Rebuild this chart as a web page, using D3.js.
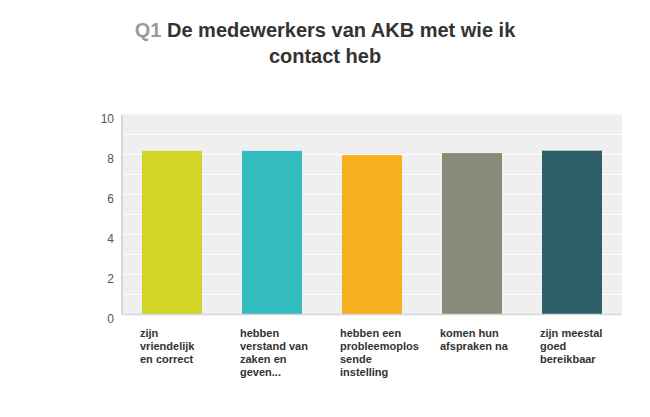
<!DOCTYPE html>
<html>
<head>
<meta charset="utf-8">
<script src="https://cdn.jsdelivr.net/npm/d3@7"></script>
<style>
  body { margin: 0; background: #fff; }
  text { font-family: "Liberation Sans", Arial, sans-serif; }
  .tick-label { font-size: 12px; fill: #555; }
  .cat-label { font-size: 11px; font-weight: bold; fill: #333; }
</style>
</head>
<body>
<script>
// Data
var categories = [
    ["zijn", "vriendelijk", "en correct"],
    ["hebben", "verstand van", "zaken en", "geven..."],
    ["hebben een", "probleemoplos", "sende", "instelling"],
    ["komen hun", "afspraken na"],
    ["zijn meestal", "goed", "bereikbaar"]
];
var values = [8.18, 8.18, 7.97, 8.07, 8.19];
var colors = ["#d0d527", "#33bdbf", "#f7af1f", "#8a8a79", "#2f5e6b"];
var yTicks = [0, 2, 4, 6, 8, 10];

var width = 650,
    height = 417;

var plot = { left: 122, right: 622, top: 114.5, bottom: 314.5 };

var svg = d3.select("body")
    .append("svg")
    .attr("width", width)
    .attr("height", height);

// Title
var title = svg.append("text")
    .attr("text-anchor", "middle")
    .style("font-size", "20px")
    .style("font-weight", "bold");
var t1 = title.append("tspan").attr("x", 325).attr("y", 37);
t1.append("tspan").attr("fill", "#999").text("Q1 ");
t1.append("tspan").attr("fill", "#333").text("De medewerkers van AKB met wie ik");
title.append("tspan").attr("x", 325).attr("y", 63).attr("fill", "#333").text("contact heb");

// Scales
var x = d3.scaleBand()
    .domain(d3.range(values.length))
    .range([plot.left, plot.right])
    .paddingInner(0.4)
    .paddingOuter(0.2);

var y = d3.scaleLinear()
    .domain([0, 10])
    .range([plot.bottom, plot.top]);

// Plot background
svg.append("rect")
    .attr("x", plot.left)
    .attr("y", plot.top)
    .attr("width", plot.right - plot.left)
    .attr("height", plot.bottom - plot.top)
    .attr("fill", "#efefef");

// Grid lines at every unit
svg.selectAll(".grid")
    .data(d3.range(1, 10))
    .enter()
    .append("line")
    .attr("x1", plot.left)
    .attr("x2", plot.right)
    .attr("y1", d => y(d))
    .attr("y2", d => y(d))
    .attr("stroke", "#fff")
    .attr("stroke-width", 1);

// Bars
svg.selectAll(".bar")
    .data(values)
    .enter()
    .append("rect")
    .attr("x", (d, i) => x(i))
    .attr("y", d => y(d))
    .attr("width", x.bandwidth())
    .attr("height", d => y(0) - y(d))
    .attr("fill", (d, i) => colors[i]);

// Axis lines
svg.append("line")
    .attr("x1", plot.left).attr("x2", plot.left)
    .attr("y1", plot.top).attr("y2", plot.bottom)
    .attr("stroke", "#d8d8d8").attr("stroke-width", 2);
svg.append("line")
    .attr("x1", plot.left).attr("x2", plot.right)
    .attr("y1", plot.bottom).attr("y2", plot.bottom)
    .attr("stroke", "#d8d8d8").attr("stroke-width", 1.5);

// Y tick labels
svg.selectAll(".tick-label")
    .data(yTicks)
    .enter()
    .append("text")
    .attr("class", "tick-label")
    .attr("x", 114)
    .attr("y", d => y(d) + 8.5)
    .attr("text-anchor", "end")
    .text(d => d);

// Category labels
categories.forEach(function (lines, i) {
    var t = svg.append("text")
        .attr("class", "cat-label");
    lines.forEach(function (line, j) {
        t.append("tspan")
            .attr("x", x(i) - 2)
            .attr("y", 337 + j * 13)
            .text(line);
    });
});
</script>
</body>
</html>
